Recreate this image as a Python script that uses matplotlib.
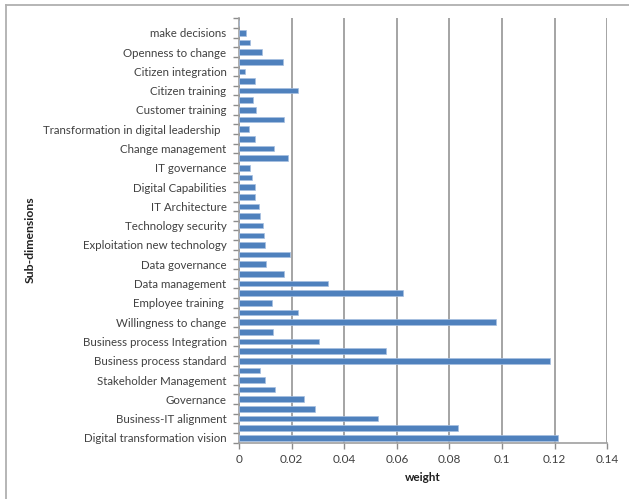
import matplotlib
matplotlib.use("Agg")
import matplotlib.pyplot as plt
from matplotlib.lines import Line2D
from matplotlib.ticker import FixedLocator

# Sub-dimension names (every other category carries a label, bottom to top)
labels = [
    "Digital transformation vision",
    "Business-IT alignment",
    "Governance",
    "Stakeholder Management",
    "Business process standard",
    "Business process Integration",
    "Willingness to change",
    "Employee training ",
    "Data management",
    "Data governance",
    "Exploitation new technology",
    "Technology security",
    "IT Architecture",
    "Digital Capabilities",
    "IT governance",
    "Change management",
    "Transformation in digital leadership  ",
    "Customer training",
    "Citizen training",
    "Citizen integration",
    "Openness to change",
    "make decisions",
]

# Weights of all sub-dimensions, bottom to top
weights = [
    0.1212, 0.0832, 0.0527, 0.0288, 0.0246, 0.0136, 0.0099, 0.0080,
    0.1184, 0.0559, 0.0303, 0.0131, 0.0976, 0.0223, 0.0127, 0.0624,
    0.0338, 0.0171, 0.0103, 0.0195, 0.0099, 0.0095, 0.0091, 0.0080,
    0.0075, 0.0060, 0.0060, 0.0051, 0.0043, 0.0186, 0.0134, 0.0062,
    0.0039, 0.0171, 0.0066, 0.0055, 0.0223, 0.0060, 0.0023, 0.0167,
    0.0086, 0.0043, 0.0028, 0.0,
]

x_ticks = [0, 0.02, 0.04, 0.06, 0.08, 0.1, 0.12, 0.14]
x_tick_labels = ["0", "0.02", "0.04", "0.06", "0.08", "0.1", "0.12", "0.14"]

plt.rcParams["font.family"] = ["Lato", "DejaVu Sans"]

W, H = 629, 499
fig = plt.figure(figsize=(W / 100, H / 100), dpi=100)
fig.patch.set_facecolor("white")

ax = fig.add_axes([239 / W, 1 - 442.7 / H, (607.3 - 239) / W, (442.7 - 18.3) / H])

n = len(weights)
pos = list(range(n))
ax.barh(pos, weights, height=0.58, color="#4F81BD", edgecolor="#A7BFE0",
        linewidth=0.5, zorder=3)

ax.set_xlim(0, 0.14)
ax.set_ylim(-0.5, n - 0.5)

ax.set_xticks(x_ticks)
ax.set_xticklabels(x_tick_labels, fontsize=8.5, color="#404040")
ax.grid(axis="x", color="#8C8C8C", linewidth=1.1, zorder=0)
ax.set_axisbelow(True)

# category labels on every second bar, ticks at category boundaries
ax.yaxis.set_major_locator(FixedLocator(pos[::2]))
ax.set_yticklabels(labels, fontsize=8.3, color="#404040")
ax.yaxis.set_minor_locator(FixedLocator([p - 0.5 for p in range(n + 1)]))
ax.tick_params(axis="y", which="major", length=0, pad=9)
ax.tick_params(axis="y", which="minor", length=4, width=1, color="#8C8C8C")
ax.tick_params(axis="x", which="major", length=4, width=1, color="#8C8C8C",
               pad=4)

for side in ("top", "right"):
    ax.spines[side].set_visible(False)
for side in ("left", "bottom"):
    ax.spines[side].set_color("#A0A0A0")
    ax.spines[side].set_linewidth(1.2)

ax.set_xlabel("weight", fontsize=8.5, fontweight="bold", color="#202020",
              labelpad=5)
fig.text(30 / W, 1 - 240 / H, "Sub-dimensions", rotation=90, fontsize=8.8,
         fontweight="bold", color="#202020", ha="center", va="center")

# chart frame
frame_color = "#B0B0B0"
fig.add_artist(Line2D([6 / W, 6 / W], [0, 1 - 5 / H], transform=fig.transFigure,
                      color=frame_color, linewidth=1.3))
fig.add_artist(Line2D([6 / W, 1], [1 - 5 / H, 1 - 5 / H], transform=fig.transFigure,
                      color=frame_color, linewidth=1.3))

fig.savefig("out.png", dpi=100)
